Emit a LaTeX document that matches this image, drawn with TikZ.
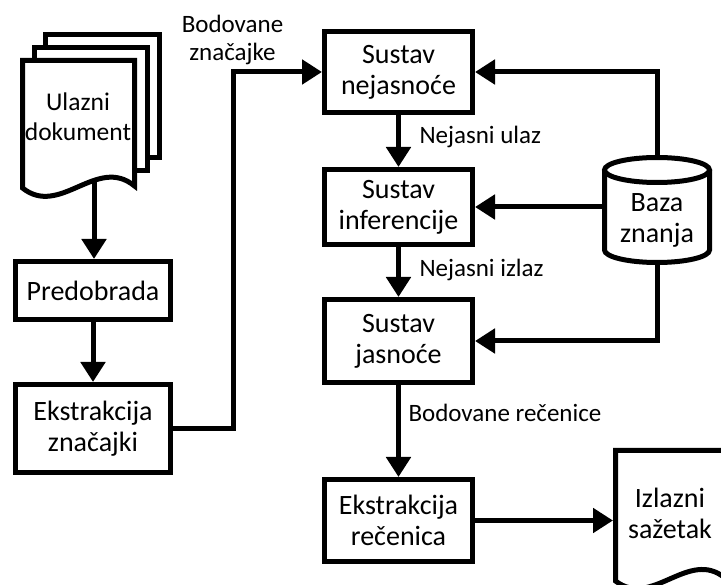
\documentclass[tikz,border=0pt]{standalone}
\usepackage{fontspec}
\setmainfont{Carlito}
\usetikzlibrary{arrows.meta}
\begin{document}
\begin{tikzpicture}[x=1pt,y=-1pt,
  line width=5pt,
  boxst/.style={draw, line width=5pt, fill=white, align=center, inner sep=0pt, minimum width=150pt, font=\fontsize{28}{31}\selectfont},
  txt/.style={align=center, inner sep=0pt, font=\fontsize{28}{31}\selectfont},
  doctxt/.style={align=center, inner sep=0pt, font=\fontsize{25.5}{30}\selectfont},
  lbl/.style={inner sep=0pt, align=center, font=\fontsize{25}{28}\selectfont},
  arr/.style={-{Triangle[length=20pt,width=24pt]}, line width=5pt}
]
\useasboundingbox (0,0) rectangle (721,585);
\clip (0,0) rectangle (721,585);
\fill[white] (0,0) rectangle (721,585);

% input document stack
\draw[fill=white] (45.5,34.5) rectangle (159.5,158);
\draw[fill=white] (34.5,47.5) rectangle (147.5,171);
\draw[fill=white] (22.5,60.5) -- (134.5,60.5) -- (134.5,186)
  .. controls (97,155) and (60,218) .. (22.5,188) -- cycle;
\node[doctxt] (in) at (78,117) {Ulazni\\dokument};
\coordinate (inbot) at (94,181);

% left column
\node[boxst, minimum width=155pt, minimum height=58pt] (pre) at (93,290.5) {Predobrada};
\node[boxst, minimum width=155pt, minimum height=88pt] (ez) at (93,428.5) {Ekstrakcija\\značajki};

% middle column
\node[boxst, minimum width=148pt, minimum height=81pt] (nej) at (398.5,72) {Sustav\\nejasnoće};
\node[boxst, minimum width=148pt, minimum height=75pt] (inf) at (398.5,207) {Sustav\\inferencije};
\node[boxst, minimum width=148pt, minimum height=83pt] (jas) at (398.5,341) {Sustav\\jasnoće};
\node[boxst, minimum width=148pt, minimum height=82pt] (er) at (398.5,520.5) {Ekstrakcija\\rečenica};

% knowledge base cylinder
\fill[white] (604.5,170) -- (604.5,250) arc[start angle=180, end angle=360, x radius=52.5pt, y radius=12.5pt] -- (709.5,170) -- cycle;
\draw (604.5,170) -- (604.5,250) arc[start angle=180, end angle=360, x radius=52.5pt, y radius=12.5pt] -- (709.5,170);
\draw[fill=white] (657,170) ellipse[x radius=52.5pt, y radius=12.5pt];
\node[inner sep=0pt, minimum width=105pt, minimum height=105pt] (db) at (657,210) {};
\node[txt] (dbt) at (657,220) {Baza\\znanja};

% output document
\draw[fill=white] (615.5,450.5) -- (725,450.5) -- (725,578)
  .. controls (688.5,548) and (652,609) .. (615.5,581) -- cycle;
\node[txt] (out) at (670,513) {Izlazni\\sažetak};
\coordinate (outin) at (613,520.5);

% connectors
\coordinate (b1) at (233,72);
\draw[arr] (inbot) -- (inbot |- pre.north);
\draw[arr] (pre.south) -- (ez.north);
\draw[arr] (ez.east) -| (b1) -- (nej.west);
\draw[arr] (nej.south) -- (inf.north);
\draw[arr] (inf.south) -- (jas.north);
\draw[arr] (jas.south) -- (er.north);
\draw[arr] (er.east) -- (outin);
\draw[arr] (db.north) |- (nej.east);
\draw[arr] (db.west |- inf.east) -- (inf.east);
\draw[arr] (db.south) |- (jas.east);

% labels
\node[lbl, anchor=base west] (l1) at (417,144) {Nejasni ulaz};
\node[lbl, anchor=base west] (l2) at (417,277) {Nejasni izlaz};
\node[lbl, anchor=base west] (l3) at (406,422) {Bodovane rečenice};
\node[lbl] (l4) at (232.5,40) {Bodovane\\značajke};
\end{tikzpicture}
\end{document}
